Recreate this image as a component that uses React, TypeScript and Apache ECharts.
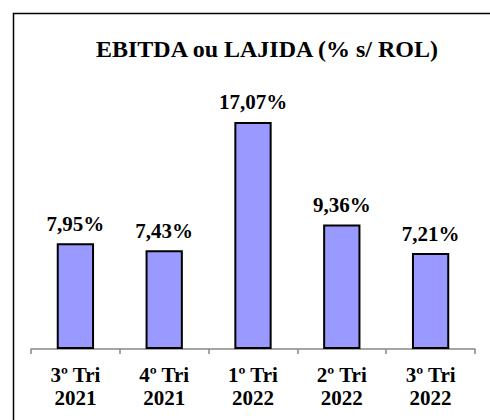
import React, { useEffect, useRef } from "react";
import * as echarts from "echarts";

const categories = ["3º Tri\n2021", "4º Tri\n2021", "1º Tri\n2022", "2º Tri\n2022", "3º Tri\n2022"];
const values = [7.95, 7.43, 17.07, 9.36, 7.21];
const titleText = "EBITDA ou LAJIDA (% s/ ROL)";

const FONT = "Liberation Serif";

export default function App() {
  const ref = useRef<HTMLDivElement>(null);
  useEffect(() => {
    if (!ref.current) return;
    const chart = echarts.init(ref.current, null, { renderer: "svg" });
    chart.setOption({
      animation: false,
      backgroundColor: "#ffffff",
      graphic: [
        {
          type: "rect",
          shape: { x: 13.5, y: 13.5, width: 520, height: 500 },
          style: { fill: "none", stroke: "#000", lineWidth: 1.5 },
          silent: true,
        },
        {
          type: "text",
          x: 267,
          y: 49,
          style: {
            text: titleText,
            textAlign: "center",
            textVerticalAlign: "middle",
            fontFamily: FONT,
            fontWeight: "bold",
            fontSize: 24,
            fill: "#000",
          },
        },
      ],
      grid: { left: 31, right: 15, top: 83, bottom: 71 },
      xAxis: {
        type: "category",
        data: categories,
        axisLine: { lineStyle: { color: "#888", width: 1.5 } },
        axisTick: { show: true, length: 5, lineStyle: { color: "#888", width: 1.5 } },
        axisLabel: {
          color: "#000",
          fontFamily: FONT,
          fontWeight: "bold",
          fontSize: 21,
          lineHeight: 23,
          margin: 14,
          interval: 0,
        },
      },
      yAxis: {
        type: "value",
        min: 0,
        max: 20,
        show: false,
        splitLine: { show: false },
      },
      series: [
        {
          type: "bar",
          data: values,
          barWidth: "42%",
          itemStyle: { color: "#9999FF", borderColor: "#000", borderWidth: 2 },
          label: {
            show: true,
            position: "top",
            distance: 9,
            formatter: (p: any) => p.value.toFixed(2).replace(".", ",") + "%",
            color: "#000",
            fontFamily: FONT,
            fontWeight: "bold",
            fontSize: 21,
          },
        },
      ],
    });
    return () => chart.dispose();
  }, []);
  return (
    <div
      ref={ref}
      style={{ position: "fixed", left: 0, top: 0, width: 490, height: 420, background: "#fff" }}
    />
  );
}
